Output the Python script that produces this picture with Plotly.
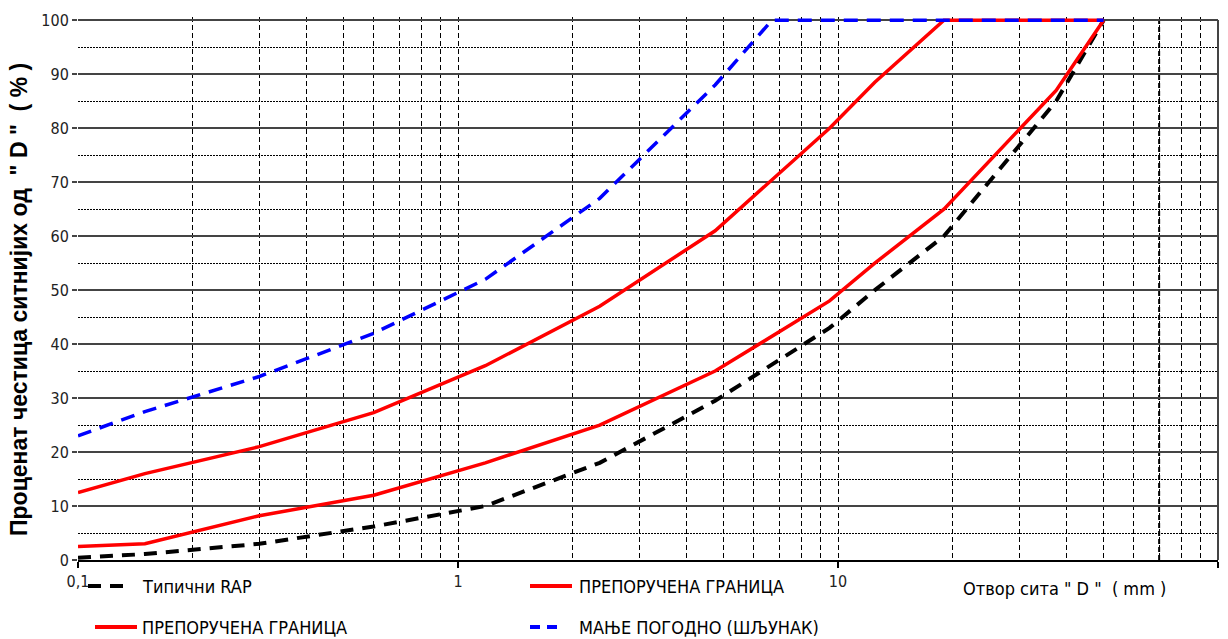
import plotly.graph_objects as go

# ---- data (sieve opening in mm, percent passing) ----
sieve_rap = [0.1, 0.15, 0.3, 0.6, 1.18, 2.36, 4.75, 9.5, 12.5, 19, 37.5, 50]
pass_rap = [0.4, 1.1, 3.0, 6.2, 10, 18, 29.5, 43, 50, 60, 85, 100]

sieve_upper = [0.1, 0.15, 0.3, 0.6, 1.18, 2.36, 4.75, 9.5, 12.5, 19, 50]
pass_upper = [12.5, 16, 21, 27.3, 36, 47, 61, 80, 88.5, 100, 100]

sieve_lower = [0.1, 0.15, 0.3, 0.6, 1.18, 2.36, 4.75, 9.5, 12.5, 19, 37.5, 50]
pass_lower = [2.5, 3.0, 8.2, 12, 18, 25, 35, 48, 55, 65, 87, 100]

sieve_gravel = [0.1, 0.15, 0.3, 0.6, 1.18, 2.36, 4.75, 6.7, 50]
pass_gravel = [23, 27.5, 34, 42, 52, 67, 88, 100, 100]

x_tickvals = [0.1, 1, 10, 100]
x_ticktext = ["0,1", "1", "10", "100"]
x_minor = [m * 10 ** e for e in (-1, 0, 1) for m in range(2, 10)]
extra_grid = [70]

name_rap = "Типични RAP"
name_limit = "ПРЕПОРУЧЕНА ГРАНИЦА"
name_gravel = "МАЊЕ ПОГОДНО (ШЉУНАК)"
y_title = 'Проценат честица ситнијих од  " D "  ( % )'
x_title = 'Отвор сита " D "  ( mm )'

W, H = 1228, 639
ML, MR, MT, MB = 78, 10, 17, 79
PW, PH = W - ML - MR, H - MT - MB

NARROW = "Liberation Sans Narrow, DejaVu Sans Condensed, Arial Narrow, sans-serif"


def px_x(p):
    return (p - ML) / PW


def px_y(p):
    return (H - MB - p) / PH


fig = go.Figure()

fig.add_trace(go.Scatter(x=sieve_rap, y=pass_rap, mode="lines", name=name_rap,
                         line=dict(color="black", width=4, dash="13px,9px")))
fig.add_trace(go.Scatter(x=sieve_upper, y=pass_upper, mode="lines", name=name_limit,
                         line=dict(color="#ff0000", width=3.5)))
fig.add_trace(go.Scatter(x=sieve_lower, y=pass_lower, mode="lines", name=name_limit,
                         line=dict(color="#ff0000", width=3.5)))
fig.add_trace(go.Scatter(x=sieve_gravel, y=pass_gravel, mode="lines", name=name_gravel,
                         line=dict(color="#0000ff", width=3.5, dash="14px,9px")))

shapes = []
# thicker grid line at 70 mm
for g in extra_grid:
    shapes.append(dict(type="line", xref="x", yref="paper", x0=g, x1=g, y0=0, y1=px_y(20),
                       line=dict(color="black", width=2, dash="5px,3px"), layer="below"))
# right border
shapes.append(dict(type="line", xref="paper", yref="paper", x0=1, x1=1, y0=0, y1=px_y(20),
                   line=dict(color="#444", width=2)))

annotations = []
# legend (manual, two rows)
legend_items = [
    (88, 130, 586, name_rap, dict(color="black", width=4, dash="13px,9px"), 140),
    (530, 572, 586, name_limit, dict(color="#ff0000", width=4), 577),
    (95, 137, 627, name_limit, dict(color="#ff0000", width=4), 140),
    (530, 561, 627, name_gravel, dict(color="#0000ff", width=4, dash="10px,7px"), 577),
]
for x0, x1, yy, txt, ln, tx in legend_items:
    shapes.append(dict(type="line", xref="paper", yref="paper", x0=px_x(x0), x1=px_x(x1),
                       y0=px_y(yy), y1=px_y(yy), line=ln))
    annotations.append(dict(text=txt, xref="paper", yref="paper", x=px_x(tx), y=px_y(yy),
                            xanchor="left", yanchor="middle", showarrow=False,
                            font=dict(family=NARROW, size=18, color="black")))

annotations.append(dict(text=x_title, xref="paper", yref="paper", x=px_x(1064), y=px_y(588),
                        xanchor="center", yanchor="middle", showarrow=False,
                        font=dict(family=NARROW, size=18, color="black")))
annotations.append(dict(text="<b>" + y_title + "</b>", xref="paper", yref="paper", x=px_x(19),
                        y=px_y(300), xanchor="center", yanchor="middle", textangle=-90,
                        showarrow=False,
                        font=dict(family="Liberation Sans, Arial, sans-serif", size=23,
                                  color="black")))

fig.update_layout(
    width=W, height=H,
    margin=dict(l=ML, r=MR, t=MT, b=MB, pad=0),
    paper_bgcolor="white", plot_bgcolor="white",
    showlegend=False,
    shapes=shapes, annotations=annotations,
    xaxis=dict(type="log", range=[-1, 2], tickmode="array", tickvals=x_tickvals,
               ticktext=x_ticktext, ticks="outside", ticklen=6, tickwidth=1.5,
               tickcolor="black", showline=True, linecolor="black", linewidth=2,
               showgrid=True, gridcolor="black", gridwidth=1, griddash="5px,3px",
               minor=dict(tickmode="array", tickvals=x_minor, showgrid=True,
                          gridcolor="black", gridwidth=1, griddash="5px,3px", ticks=""),
               tickfont=dict(family=NARROW, size=16, color="#222"),
               zeroline=False, fixedrange=True),
    yaxis=dict(range=[0, 100.6], tickmode="array", tickvals=list(range(0, 101, 10)),
               ticks="outside", ticklen=5, tickcolor="#444", tickwidth=1.5,
               showgrid=True, gridcolor="#444", gridwidth=2,
               minor=dict(tickmode="array", tickvals=list(range(5, 100, 10)), showgrid=True,
                          gridcolor="black", gridwidth=1, griddash="2px,1px", ticks=""),
               showline=False, zeroline=False,
               tickfont=dict(family=NARROW, size=16, color="#222"), fixedrange=True),
)

fig.write_html("out.html")
